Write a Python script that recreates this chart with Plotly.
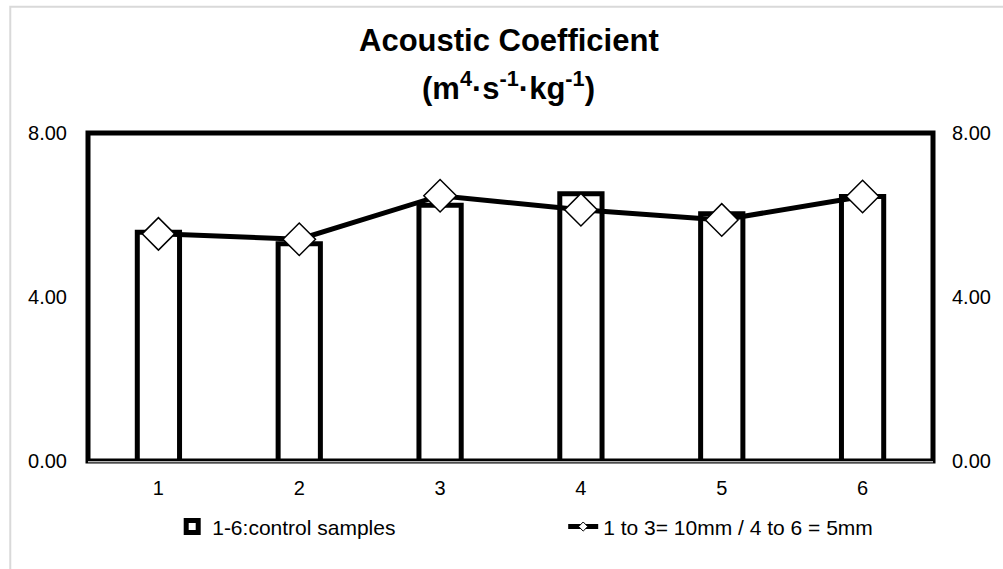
import plotly.graph_objects as go

categories = ["1", "2", "3", "4", "5", "6"]
control_values = [5.58, 5.30, 6.24, 6.52, 6.03, 6.45]
sample_values = [5.54, 5.41, 6.47, 6.13, 5.88, 6.45]
y_ticks = [0, 4, 8]
bar_name = "1-6:control samples"
line_name = "1 to 3= 10mm / 4 to 6 = 5mm"
title_line1 = "Acoustic Coefficient"
title_line2 = "(m<sup>4</sup>·s<sup>-1</sup>·kg<sup>-1</sup>)"

W, H = 1003, 569
L, R, T, B = 87.5, 67.5, 132.5, 108
pw, ph = W - L - R, H - T - B
FONT = "Liberation Sans, Arial, sans-serif"


def py(px):
    """pixel row -> paper y"""
    return (H - B - px) / ph


def pxx(px):
    """pixel column -> paper x"""
    return (px - L) / pw


fig = go.Figure()
fig.add_trace(go.Bar(
    x=categories, y=control_values, name=bar_name, width=0.3,
    marker=dict(color="white", line=dict(color="black", width=5)),
    yaxis="y",
))
fig.add_trace(go.Scatter(
    x=categories, y=sample_values, mode="lines+markers", showlegend=False,
    line=dict(color="black", width=5),
    marker=dict(symbol="diamond", size=25, color="white", line=dict(color="black", width=1.5)),
    yaxis="y2",
))
# legend entry with small marker like the reference
fig.add_trace(go.Scatter(
    x=[None], y=[None], mode="lines+markers", name=line_name,
    line=dict(color="black", width=5),
    marker=dict(symbol="diamond", size=7, color="white", line=dict(color="black", width=1)),
    yaxis="y2",
))

axis_common = dict(range=[0, 8], tickvals=y_ticks, tickformat=".2f", showgrid=False,
                   zeroline=False, showline=False, ticks="",
                   tickfont=dict(family=FONT, size=20, color="#000"))

fig.update_layout(
    width=W, height=H,
    margin=dict(l=L, r=R, t=T, b=B, pad=0),
    paper_bgcolor="white", plot_bgcolor="white",
    font=dict(family=FONT, color="#000"),
    xaxis=dict(type="category", showgrid=False, zeroline=False, showline=False, ticks="",
               ticklabelstandoff=13, tickfont=dict(family=FONT, size=20, color="#000")),
    yaxis=dict(**axis_common, side="left", ticklabelstandoff=20),
    yaxis2=dict(**axis_common, side="right", overlaying="y", ticklabelstandoff=18),
    legend=dict(orientation="h", x=pxx(172), xanchor="left", y=py(527), yanchor="middle",
                font=dict(family=FONT, size=21, color="#000"), entrywidth=346,
                bgcolor="rgba(0,0,0,0)"),
    annotations=[
        dict(text=title_line1, xref="paper", yref="paper", x=pxx(510), y=py(40),
             xanchor="center", yanchor="middle", showarrow=False,
             font=dict(family=FONT, size=31, weight="bold", color="#000")),
        dict(text=title_line2, xref="paper", yref="paper", x=pxx(509), y=py(85),
             xanchor="center", yanchor="middle", showarrow=False,
             font=dict(family=FONT, size=31, weight="bold", color="#000")),
    ],
    shapes=[
        dict(type="rect", xref="paper", yref="paper", x0=0, x1=1, y0=0, y1=1,
             line=dict(color="black", width=5), layer="below"),
        dict(type="line", xref="paper", yref="paper", x0=0, x1=1, y0=py(461.8), y1=py(461.8),
             line=dict(color="white", width=1), layer="above"),
        dict(type="rect", xref="paper", yref="paper",
             x0=pxx(9.5), x1=pxx(W + 20), y0=py(H + 20), y1=py(6),
             line=dict(color="#d9d9d9", width=2), layer="below"),
    ],
)

fig.write_html("out.html")
